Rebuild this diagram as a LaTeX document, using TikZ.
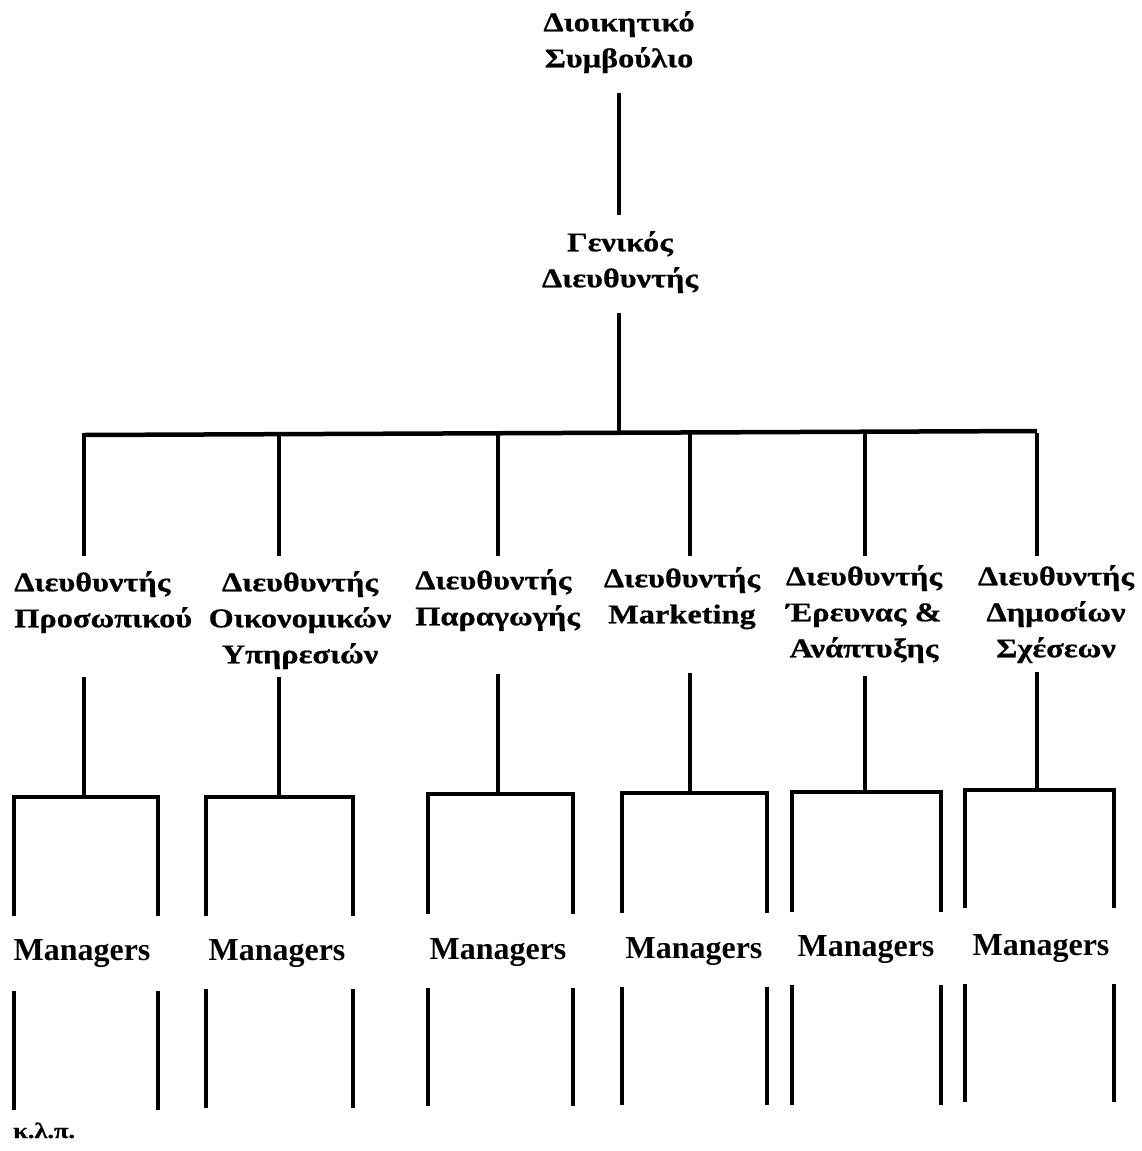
\documentclass[tikz,border=0pt]{standalone}
\usepackage{fontspec}
\setmainfont{Liberation Serif}
\newfontfamily\grw{Liberation Serif}[FakeStretch=1.2,FakeBold=0.6]
\begin{document}
\begin{tikzpicture}[x=1pt,y=-1pt,
  lbl/.style={font=\grw\bfseries\fontsize{27}{36}\selectfont, inner sep=0pt},
  mgr/.style={font=\bfseries\fontsize{32}{36}\selectfont, inner sep=0pt, anchor=base},
  ln/.style={line width=4.5pt},
  lnt/.style={line width=4pt},
]
\useasboundingbox[fill=white] (0,0) rectangle (1141,1151);

% top nodes
\node[lbl, align=center, anchor=north] (board) at (619,11) {Διοικητικό\\Συμβούλιο};
\node[lbl, align=center, anchor=north] (gm) at (620,231) {Γενικός\\Διευθυντής};

% department labels
\node[lbl, align=left, anchor=north west] (d1) at (14,571) {Διευθυντής\\Προσωπικού};
\node[lbl, align=center, anchor=north] (d2) at (300,571) {Διευθυντής\\Οικονομικών\\Υπηρεσιών};
\node[lbl, align=left, anchor=north west] (d3) at (415,569) {Διευθυντής\\Παραγωγής};
\node[lbl, align=center, anchor=north] (d4) at (682,567) {Διευθυντής\\Marketing};
\node[lbl, align=center, anchor=north] (d5) at (864,565) {Διευθυντής\\Έρευνας \&\\Ανάπτυξης};
\node[lbl, align=center, anchor=north] (d6) at (1056,565) {Διευθυντής\\Δημοσίων\\Σχέσεων};

% managers
\node[mgr] (m1) at (82,960) {Managers};
\node[mgr] (m2) at (277,960) {Managers};
\node[mgr] (m3) at (498,959) {Managers};
\node[mgr] (m4) at (694,958) {Managers};
\node[mgr] (m5) at (866,956) {Managers};
\node[mgr] (m6) at (1041,955) {Managers};

\node[font=\grw\bfseries\fontsize{22}{26}\selectfont, inner sep=0pt, anchor=base west] (etc) at (13,1138) {κ.λ.π.};

% spine
\coordinate (b1) at (619,93);
\coordinate (b2) at (619,215);
\coordinate (g1) at (619,313);
\coordinate (g2) at (619,433);
\draw[ln] (b1) -- (b2);
\draw[ln] (g1) -- (g2);
\draw[ln] (84,435) -- (1037,431);

% columns: x, L, R, bracket y, bracket bottom, lower top, lower bottom, label-drop top
\foreach \i/\x/\l/\r/\by/\bb/\lt/\lb/\dt in {
  1/84/14/158/797/916/991/1110/677,
  2/279/206/353/797/916/989/1108/677,
  3/498/428/573/794/914/988/1106/674,
  4/690/622/767/793/913/987/1105/673,
  5/865/792/941/792/912/985/1105/676,
  6/1037/965/1114/790/908/984/1102/672}{
  \coordinate (t\i) at (\x,433);
  \coordinate (u\i) at (\x,556);
  \coordinate (v\i) at (\x,\dt);
  \coordinate (w\i) at (\x,\by);
  \coordinate (L\i) at (\l,\bb);
  \coordinate (R\i) at (\r,\bb);
  \draw[ln] (t\i) -- (u\i);
  \draw[ln] (v\i) -- (w\i);
  \draw[ln] (L\i) |- (w\i) -| (R\i);
  \draw[lnt] (\l,\lt) -- (\l,\lb);
  \draw[lnt] (\r,\lt) -- (\r,\lb);
}
\end{tikzpicture}
\end{document}
